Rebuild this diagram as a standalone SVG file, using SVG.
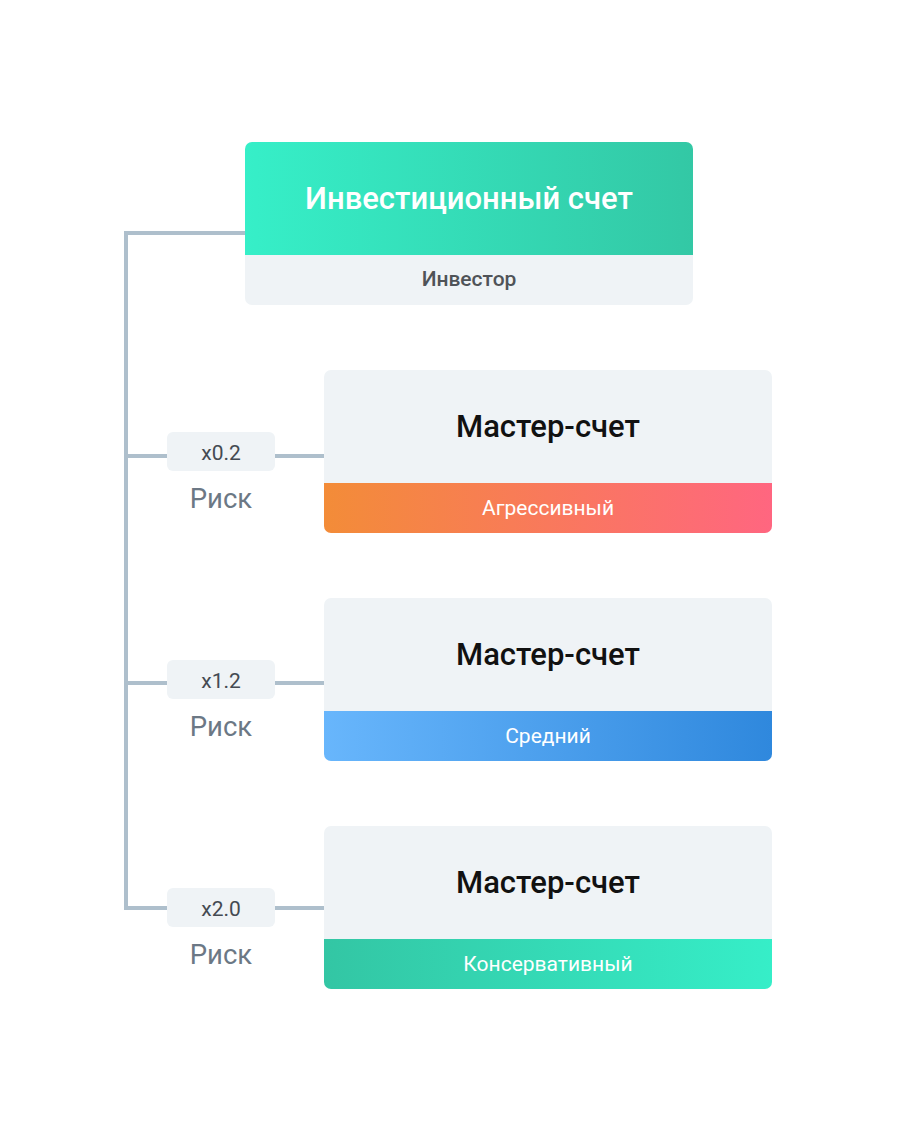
<svg xmlns="http://www.w3.org/2000/svg" width="900" height="1129" viewBox="0 0 900 1129">
<defs>
<linearGradient id="gTop" x1="0" y1="0" x2="1" y2="0"><stop offset="0" stop-color="#36efc8"/><stop offset="1" stop-color="#33c8a5"/></linearGradient>
<linearGradient id="gOrange" x1="0" y1="0" x2="1" y2="0"><stop offset="0" stop-color="#f38c38"/><stop offset="1" stop-color="#ff6680"/></linearGradient>
<linearGradient id="gBlue" x1="0" y1="0" x2="1" y2="0"><stop offset="0" stop-color="#68b6fc"/><stop offset="1" stop-color="#2f88dd"/></linearGradient>
<linearGradient id="gGreen" x1="0" y1="0" x2="1" y2="0"><stop offset="0" stop-color="#33c6a4"/><stop offset="1" stop-color="#36eec8"/></linearGradient>
<clipPath id="cTop"><rect x="245" y="142" width="448" height="163" rx="7"/></clipPath>
<clipPath id="c1"><rect x="324" y="370" width="448" height="163" rx="7"/></clipPath>
<clipPath id="c2"><rect x="324" y="598" width="448" height="163" rx="7"/></clipPath>
<clipPath id="c3"><rect x="324" y="826" width="448" height="163" rx="7"/></clipPath>
</defs>
<style>
.line{fill:none;stroke:#aebfcc;stroke-width:4}
.gray{fill:#eff3f6}
.t{font-family:Roboto,"Liberation Sans",sans-serif;text-anchor:middle}
.title{font-size:31px;font-weight:500}
.sub{font-size:21px;fill:#ffffff}
.badge{font-size:21px;fill:#444a52}
.risk{font-size:27.5px;fill:#6c7885}
</style>
<rect width="900" height="1129" fill="#ffffff"/>
<g id="connectors">
<path class="line" d="M245 233H126V908H167"/>
<path class="line" d="M126 456H167M275 456H324"/>
<path class="line" d="M126 683H167M275 683H324"/>
<path class="line" d="M275 908H324"/>
</g>
<g id="node-investment">
<g clip-path="url(#cTop)">
<rect x="245" y="142" width="448" height="113" fill="url(#gTop)"/>
<rect class="gray" x="245" y="255" width="448" height="50"/>
</g>
<text class="t" x="469" y="209" font-size="31" fill="#ffffff" font-weight="500">Инвестиционный счет</text>
<text class="t" x="469" y="286" font-size="21" fill="#4f5358" font-weight="500">Инвестор</text>
</g>
<g id="node-master1">
<g clip-path="url(#c1)">
<rect class="gray" x="324" y="370" width="448" height="113"/>
<rect x="324" y="483" width="448" height="50" fill="url(#gOrange)"/>
</g>
<text class="t title" x="548" y="437" fill="#111111">Мастер-счет</text>
<text class="t sub" x="548" y="515">Агрессивный</text>
</g>
<g id="node-master2">
<g clip-path="url(#c2)">
<rect class="gray" x="324" y="598" width="448" height="113"/>
<rect x="324" y="711" width="448" height="50" fill="url(#gBlue)"/>
</g>
<text class="t title" x="548" y="665" fill="#111111">Мастер-счет</text>
<text class="t sub" x="548" y="743">Средний</text>
</g>
<g id="node-master3">
<g clip-path="url(#c3)">
<rect class="gray" x="324" y="826" width="448" height="113"/>
<rect x="324" y="939" width="448" height="50" fill="url(#gGreen)"/>
</g>
<text class="t title" x="548" y="893" fill="#111111">Мастер-счет</text>
<text class="t sub" x="548" y="971">Консервативный</text>
</g>
<g id="badge1">
<rect class="gray" x="167" y="432" width="108" height="39" rx="6"/>
<text class="t badge" x="221" y="460">x0.2</text>
<text class="t risk" x="221" y="508">Риск</text>
</g>
<g id="badge2">
<rect class="gray" x="167" y="660" width="108" height="39" rx="6"/>
<text class="t badge" x="221" y="688">x1.2</text>
<text class="t risk" x="221" y="736">Риск</text>
</g>
<g id="badge3">
<rect class="gray" x="167" y="888" width="108" height="39" rx="6"/>
<text class="t badge" x="221" y="916">x2.0</text>
<text class="t risk" x="221" y="964">Риск</text>
</g>
</svg>
